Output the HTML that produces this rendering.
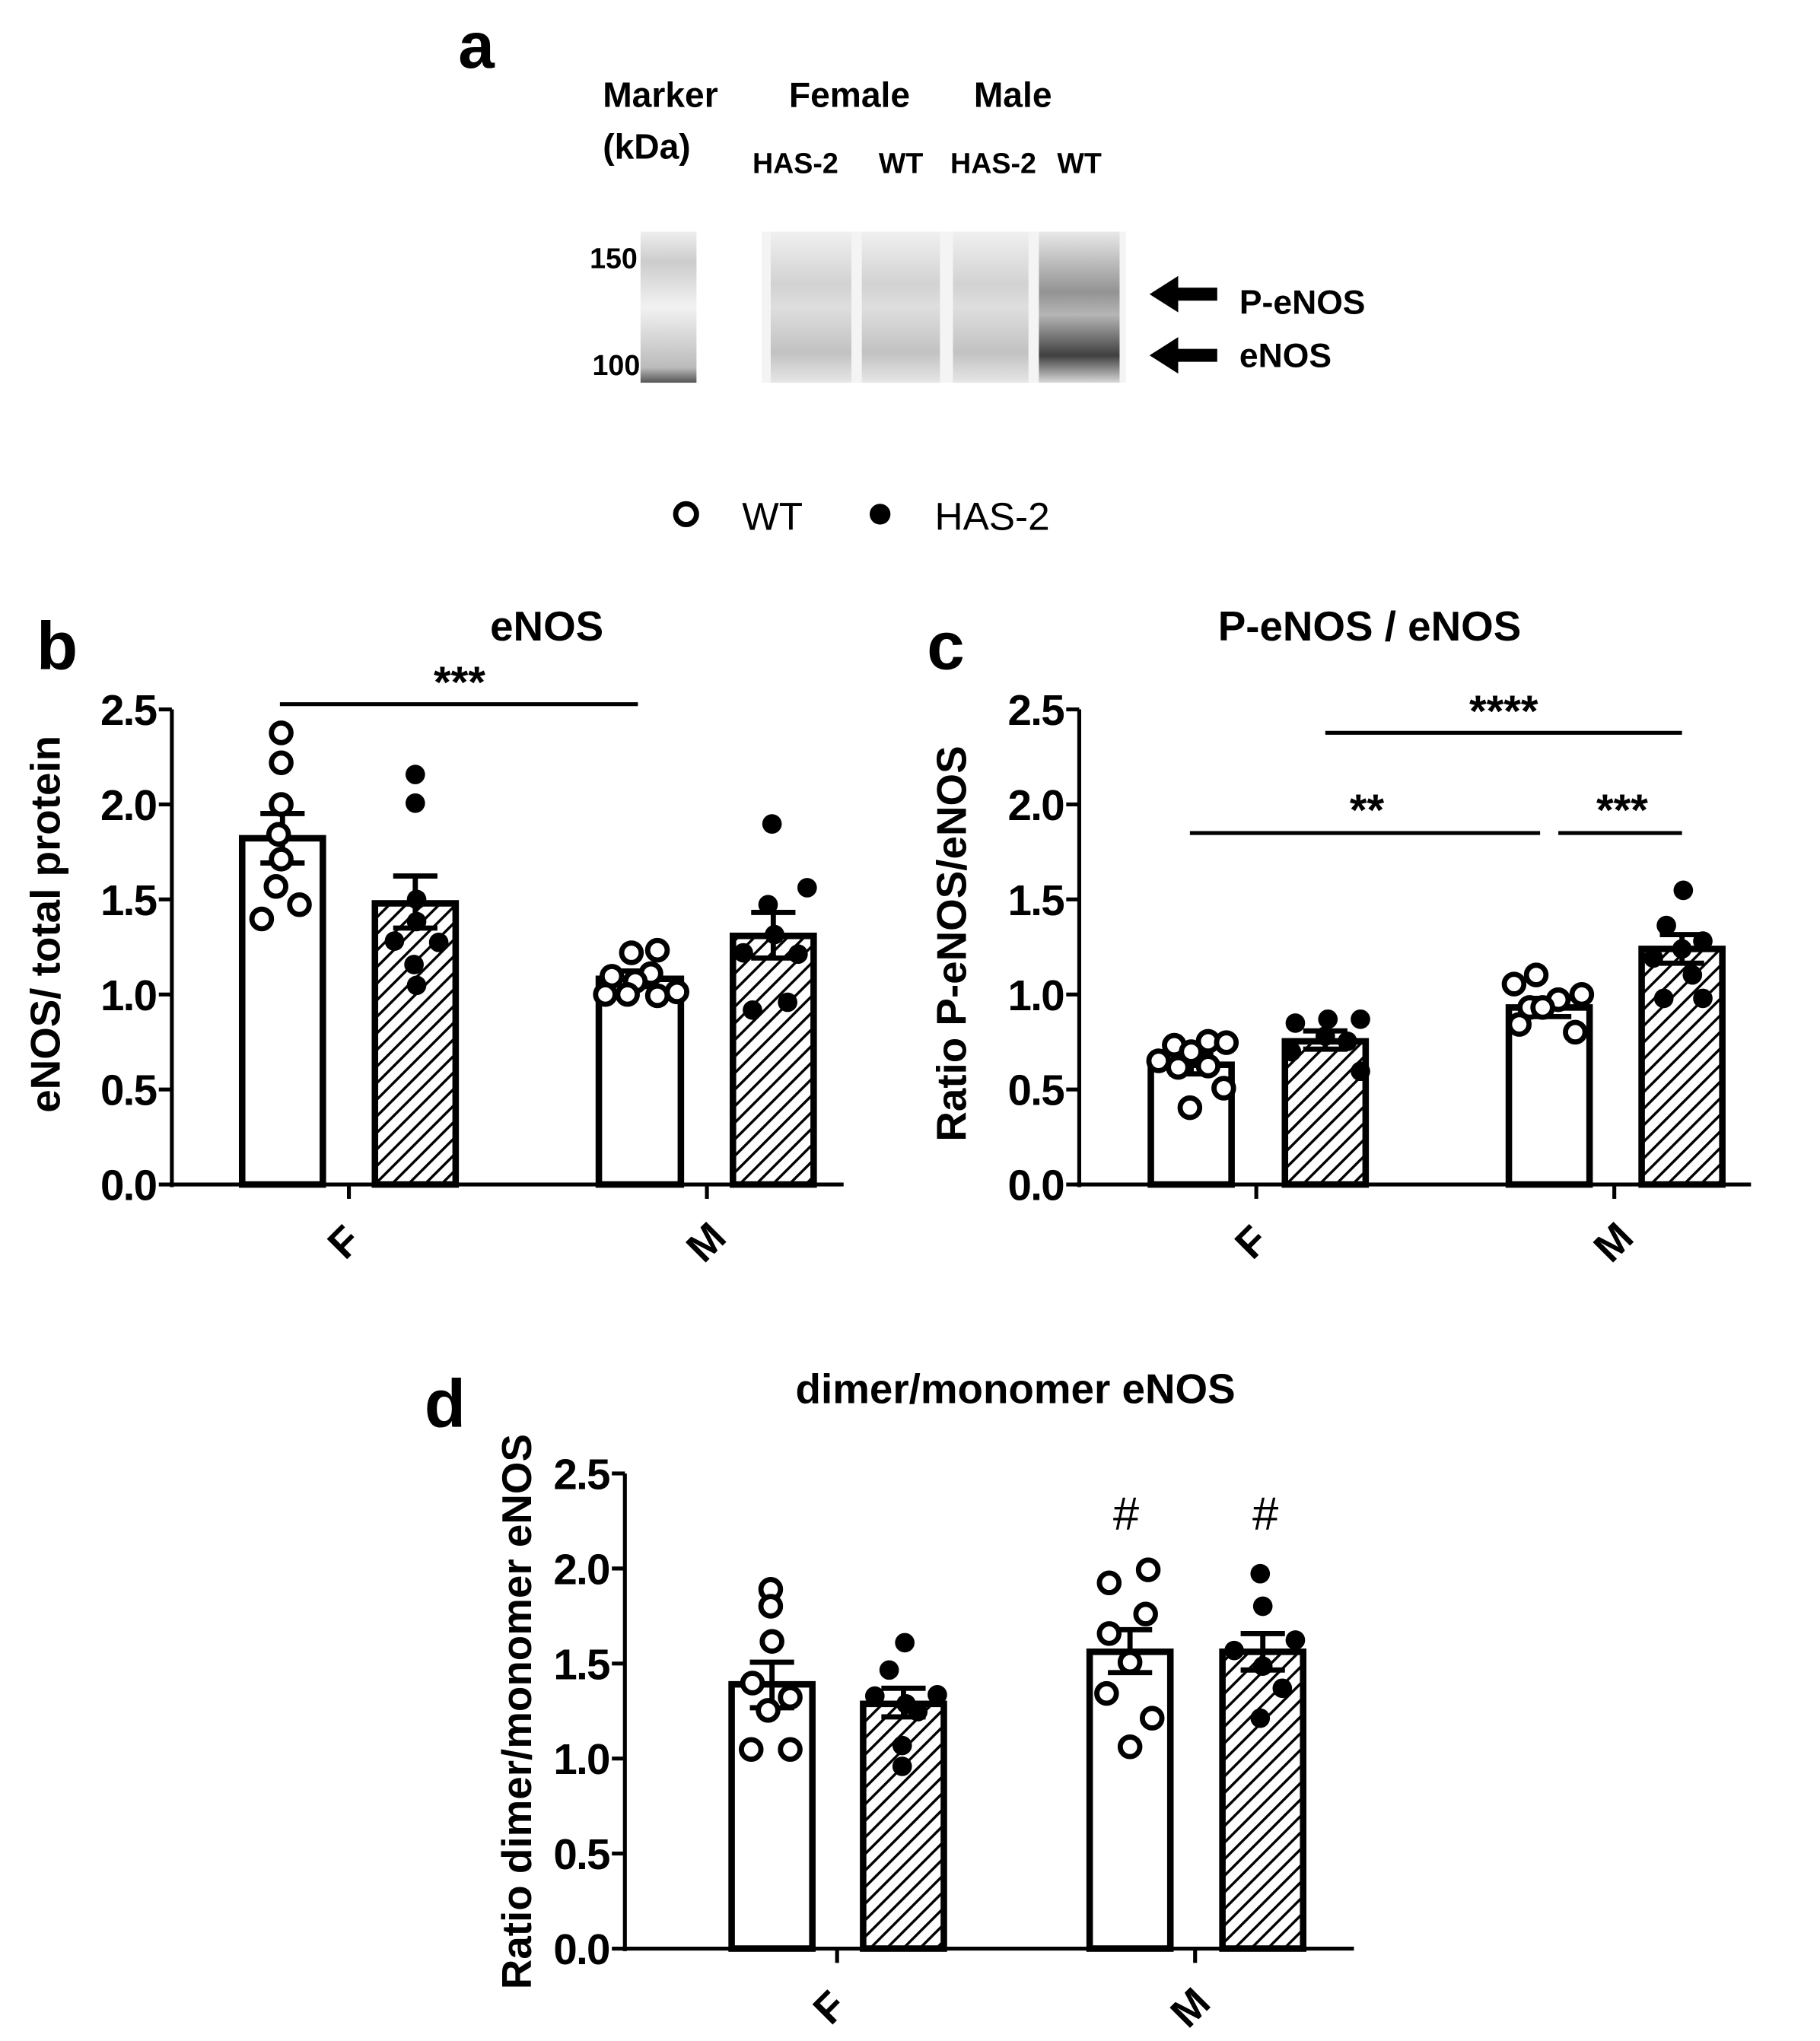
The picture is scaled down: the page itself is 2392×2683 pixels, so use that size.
<!DOCTYPE html>
<html><head><meta charset="utf-8"><style>html,body{margin:0;padding:0;background:#fff}svg{display:block}</style></head>
<body>
<svg width="2392" height="2683" viewBox="0 0 1398 1568" preserveAspectRatio="none" xmlns="http://www.w3.org/2000/svg" font-family="Liberation Sans, sans-serif">
<defs>
<pattern id="h" patternUnits="userSpaceOnUse" width="9" height="9" patternTransform="rotate(45)">
<rect width="9" height="9" fill="#fff"/><rect x="0" y="0" width="2" height="9" fill="#000"/>
</pattern>
<linearGradient id="lane" x1="0" x2="0" y1="0" y2="1">
<stop offset="0" stop-color="#f0f0f0"/><stop offset="0.35" stop-color="#d2d2d2"/><stop offset="0.5" stop-color="#dedede"/><stop offset="0.8" stop-color="#c2c2c2"/><stop offset="1" stop-color="#e6e6e6"/>
</linearGradient>
<linearGradient id="lane4" x1="0" x2="0" y1="0" y2="1">
<stop offset="0" stop-color="#e8e8e8"/><stop offset="0.4" stop-color="#939393"/><stop offset="0.55" stop-color="#b5b5b5"/><stop offset="0.82" stop-color="#404040"/><stop offset="1" stop-color="#d8d8d8"/>
</linearGradient>
<linearGradient id="mk" x1="0" x2="0" y1="0" y2="1">
<stop offset="0" stop-color="#eee"/><stop offset="0.2" stop-color="#ccc"/><stop offset="0.5" stop-color="#f2f2f2"/><stop offset="0.9" stop-color="#bbb"/><stop offset="1" stop-color="#555"/>
</linearGradient>
</defs>
<!-- Panel a -->
<g font-weight="bold">
<text x="352" y="52" font-size="50">a</text>
<text x="463" y="82" font-size="27">Marker</text>
<text x="463" y="122" font-size="27">(kDa)</text>
<text x="606" y="82" font-size="27">Female</text>
<text x="748" y="82" font-size="27">Male</text>
<text x="578" y="133" font-size="22">HAS-2</text>
<text x="675" y="133" font-size="22">WT</text>
<text x="730" y="133" font-size="22">HAS-2</text>
<text x="812" y="133" font-size="22">WT</text>
<text x="453" y="206" font-size="22">150</text>
<text x="455" y="288" font-size="22">100</text>
<text x="952" y="241" font-size="26">P-eNOS</text>
<text x="952" y="282" font-size="26">eNOS</text>
</g>
<rect x="492" y="178" width="43" height="116" fill="url(#mk)"/>
<rect x="585" y="178" width="280" height="116" fill="#f4f4f4"/>
<rect x="592" y="178" width="62" height="116" fill="url(#lane)"/>
<rect x="662" y="178" width="60" height="116" fill="url(#lane)"/>
<rect x="732" y="178" width="58" height="116" fill="url(#lane)"/>
<rect x="798" y="178" width="62" height="116" fill="url(#lane4)"/>
<polygon points="883,226 905,212 905,221 935,221 935,231 905,231 905,240" fill="#000"/>
<polygon points="883,273 905,259 905,268 935,268 935,278 905,278 905,287" fill="#000"/>
<circle cx="527" cy="395" r="8" fill="#fff" stroke="#000" stroke-width="4"/>
<text x="570" y="407" font-size="30">WT</text>
<circle cx="676" cy="395" r="8" fill="#000"/>
<text x="718" y="407" font-size="30">HAS-2</text>

<!-- Panel b -->
<g font-weight="bold">
<text x="28" y="514" font-size="52">b</text>
<text x="420" y="492" font-size="32" text-anchor="middle">eNOS</text>
<text x="353" y="536" font-size="34" text-anchor="middle">***</text>
<g font-size="33" text-anchor="end" letter-spacing="-1">
<text x="120" y="922">0.0</text><text x="120" y="849">0.5</text><text x="120" y="776">1.0</text><text x="120" y="703">1.5</text><text x="120" y="630">2.0</text><text x="120" y="557">2.5</text>
</g>
<text transform="translate(46,710) rotate(-90)" font-size="32" text-anchor="middle">eNOS/ total protein</text>
<text transform="translate(272,962) rotate(-45)" font-size="32" text-anchor="middle">F</text>
<text transform="translate(550,962) rotate(-45)" font-size="32" text-anchor="middle">M</text>
</g>
<line x1="215" y1="541" x2="490" y2="541" stroke="#000" stroke-width="3"/>
<g stroke="#000" stroke-width="3">
<line x1="132" y1="545" x2="132" y2="912"/>
<line x1="130" y1="910" x2="648" y2="910"/>
<line x1="122" y1="545" x2="132" y2="545"/><line x1="122" y1="618" x2="132" y2="618"/><line x1="122" y1="691" x2="132" y2="691"/><line x1="122" y1="764" x2="132" y2="764"/><line x1="122" y1="837" x2="132" y2="837"/><line x1="122" y1="910" x2="132" y2="910"/>
<line x1="268" y1="910" x2="268" y2="921"/><line x1="543" y1="910" x2="543" y2="921"/>
</g>
<g stroke="#000" stroke-width="5">
<rect x="186" y="644" width="62" height="266" fill="#fff"/>
<rect x="288" y="694" width="62" height="216" fill="url(#h)"/>
<rect x="460" y="752" width="63" height="158" fill="#fff"/>
<rect x="563" y="719" width="62" height="191" fill="url(#h)"/>
</g>
<g stroke="#000" stroke-width="4">
<line x1="217" y1="663" x2="217" y2="625"/><line x1="200" y1="663" x2="234" y2="663"/><line x1="200" y1="625" x2="234" y2="625"/>
<line x1="319" y1="713" x2="319" y2="673"/><line x1="302" y1="713" x2="336" y2="713"/><line x1="302" y1="673" x2="336" y2="673"/>
<line x1="491" y1="758" x2="491" y2="746"/><line x1="474" y1="758" x2="508" y2="758"/><line x1="474" y1="746" x2="508" y2="746"/>
<line x1="594" y1="736" x2="594" y2="701"/><line x1="577" y1="736" x2="611" y2="736"/><line x1="577" y1="701" x2="611" y2="701"/>
</g>
<g fill="#fff" stroke="#000" stroke-width="4">
<circle cx="216" cy="563" r="7.5"/><circle cx="216" cy="586" r="7.5"/><circle cx="216" cy="618" r="7.5"/><circle cx="214" cy="641" r="7.5"/><circle cx="216" cy="660" r="7.5"/><circle cx="212" cy="681" r="7.5"/><circle cx="201" cy="706" r="7.5"/><circle cx="230" cy="695" r="7.5"/>
<circle cx="485" cy="732" r="7.5"/><circle cx="505" cy="730" r="7.5"/><circle cx="470" cy="750" r="7.5"/><circle cx="500" cy="748" r="7.5"/><circle cx="488" cy="754" r="7.5"/><circle cx="465" cy="764" r="7.5"/><circle cx="482" cy="764" r="7.5"/><circle cx="520" cy="762" r="7.5"/><circle cx="505" cy="765" r="7.5"/>
</g>
<g fill="#000">
<circle cx="319" cy="595" r="7.5"/><circle cx="319" cy="617" r="7.5"/><circle cx="320" cy="691" r="7.5"/><circle cx="320" cy="708" r="7.5"/><circle cx="303" cy="723" r="7.5"/><circle cx="337" cy="724" r="7.5"/><circle cx="318" cy="741" r="7.5"/><circle cx="320" cy="757" r="7.5"/>
<circle cx="593" cy="633" r="7.5"/><circle cx="620" cy="682" r="7.5"/><circle cx="590" cy="695" r="7.5"/><circle cx="571" cy="732" r="7.5"/><circle cx="613" cy="733" r="7.5"/><circle cx="605" cy="770" r="7.5"/><circle cx="578" cy="776" r="7.5"/><circle cx="595" cy="718" r="7.5"/>
</g>

<!-- Panel c -->
<g font-weight="bold">
<text x="712" y="514" font-size="52">c</text>
<text x="1052" y="492" font-size="32" text-anchor="middle">P-eNOS / eNOS</text>
<text x="1155" y="558" font-size="34" text-anchor="middle">****</text>
<text x="1050" y="634" font-size="34" text-anchor="middle">**</text>
<text x="1246" y="634" font-size="34" text-anchor="middle">***</text>
<g font-size="33" text-anchor="end" letter-spacing="-1">
<text x="817" y="922">0.0</text><text x="817" y="849">0.5</text><text x="817" y="776">1.0</text><text x="817" y="703">1.5</text><text x="817" y="630">2.0</text><text x="817" y="557">2.5</text>
</g>
<text transform="translate(742,725) rotate(-90)" font-size="32" text-anchor="middle">Ratio P-eNOS/eNOS</text>
<text transform="translate(969,962) rotate(-45)" font-size="32" text-anchor="middle">F</text>
<text transform="translate(1247,962) rotate(-45)" font-size="32" text-anchor="middle">M</text>
</g>
<g stroke="#000" stroke-width="3">
<line x1="1018" y1="563" x2="1292" y2="563"/>
<line x1="914" y1="640" x2="1183" y2="640"/>
<line x1="1197" y1="640" x2="1292" y2="640"/>
<line x1="829" y1="545" x2="829" y2="912"/>
<line x1="827" y1="910" x2="1345" y2="910"/>
<line x1="819" y1="545" x2="829" y2="545"/><line x1="819" y1="618" x2="829" y2="618"/><line x1="819" y1="691" x2="829" y2="691"/><line x1="819" y1="764" x2="829" y2="764"/><line x1="819" y1="837" x2="829" y2="837"/><line x1="819" y1="910" x2="829" y2="910"/>
<line x1="965" y1="910" x2="965" y2="921"/><line x1="1240" y1="910" x2="1240" y2="921"/>
</g>
<g stroke="#000" stroke-width="5">
<rect x="884" y="818" width="62" height="92" fill="#fff"/>
<rect x="987" y="800" width="62" height="110" fill="url(#h)"/>
<rect x="1159" y="774" width="62" height="136" fill="#fff"/>
<rect x="1261" y="729" width="62" height="181" fill="url(#h)"/>
</g>
<g stroke="#000" stroke-width="4">
<line x1="915" y1="825" x2="915" y2="810"/><line x1="898" y1="825" x2="932" y2="825"/><line x1="898" y1="810" x2="932" y2="810"/>
<line x1="1018" y1="806" x2="1018" y2="792"/><line x1="1001" y1="806" x2="1035" y2="806"/><line x1="1001" y1="792" x2="1035" y2="792"/>
<line x1="1190" y1="781" x2="1190" y2="767"/><line x1="1173" y1="781" x2="1207" y2="781"/><line x1="1173" y1="767" x2="1207" y2="767"/>
<line x1="1292" y1="740" x2="1292" y2="718"/><line x1="1275" y1="740" x2="1309" y2="740"/><line x1="1275" y1="718" x2="1309" y2="718"/>
</g>
<g fill="#fff" stroke="#000" stroke-width="4">
<circle cx="928" cy="800" r="7.5"/><circle cx="942" cy="801" r="7.5"/><circle cx="902" cy="803" r="7.5"/><circle cx="915" cy="808" r="7.5"/><circle cx="890" cy="815" r="7.5"/><circle cx="928" cy="819" r="7.5"/><circle cx="905" cy="820" r="7.5"/><circle cx="940" cy="836" r="7.5"/><circle cx="914" cy="851" r="7.5"/>
<circle cx="1180" cy="749" r="7.5"/><circle cx="1163" cy="756" r="7.5"/><circle cx="1215" cy="764" r="7.5"/><circle cx="1197" cy="768" r="7.5"/><circle cx="1175" cy="774" r="7.5"/><circle cx="1185" cy="774" r="7.5"/><circle cx="1167" cy="787" r="7.5"/><circle cx="1210" cy="793" r="7.5"/>
</g>
<g fill="#000">
<circle cx="1020" cy="783" r="7.5"/><circle cx="1045" cy="783" r="7.5"/><circle cx="995" cy="786" r="7.5"/><circle cx="1018" cy="796" r="7.5"/><circle cx="1035" cy="800" r="7.5"/><circle cx="992" cy="808" r="7.5"/><circle cx="1045" cy="823" r="7.5"/>
<circle cx="1293" cy="684" r="7.5"/><circle cx="1280" cy="711" r="7.5"/><circle cx="1308" cy="723" r="7.5"/><circle cx="1292" cy="729" r="7.5"/><circle cx="1270" cy="736" r="7.5"/><circle cx="1300" cy="749" r="7.5"/><circle cx="1278" cy="767" r="7.5"/><circle cx="1308" cy="767" r="7.5"/>
</g>

<!-- Panel d -->
<g font-weight="bold">
<text x="326" y="1096" font-size="52">d</text>
<text x="780" y="1078" font-size="32" text-anchor="middle">dimer/monomer eNOS</text>
<text x="865" y="1175" font-size="36" font-weight="normal" text-anchor="middle">#</text>
<text x="972" y="1175" font-size="36" font-weight="normal" text-anchor="middle">#</text>
<g font-size="33" text-anchor="end" letter-spacing="-1">
<text x="468" y="1509">0.0</text><text x="468" y="1436">0.5</text><text x="468" y="1363">1.0</text><text x="468" y="1290">1.5</text><text x="468" y="1217">2.0</text><text x="468" y="1144">2.5</text>
</g>
<text transform="translate(408,1315) rotate(-90)" font-size="32" text-anchor="middle">Ratio dimer/monomer eNOS</text>
<text transform="translate(645,1550) rotate(-45)" font-size="32" text-anchor="middle">F</text>
<text transform="translate(922,1550) rotate(-45)" font-size="32" text-anchor="middle">M</text>
</g>
<g stroke="#000" stroke-width="3">
<line x1="480" y1="1132" x2="480" y2="1499"/>
<line x1="478" y1="1497" x2="1040" y2="1497"/>
<line x1="470" y1="1132" x2="480" y2="1132"/><line x1="470" y1="1205" x2="480" y2="1205"/><line x1="470" y1="1278" x2="480" y2="1278"/><line x1="470" y1="1351" x2="480" y2="1351"/><line x1="470" y1="1424" x2="480" y2="1424"/><line x1="470" y1="1497" x2="480" y2="1497"/>
<line x1="643" y1="1497" x2="643" y2="1508"/><line x1="918" y1="1497" x2="918" y2="1508"/>
</g>
<g stroke="#000" stroke-width="5">
<rect x="562" y="1294" width="62" height="203" fill="#fff"/>
<rect x="663" y="1309" width="62" height="188" fill="url(#h)"/>
<rect x="837" y="1269" width="62" height="228" fill="#fff"/>
<rect x="939" y="1269" width="62" height="228" fill="url(#h)"/>
</g>
<g stroke="#000" stroke-width="4">
<line x1="593" y1="1312" x2="593" y2="1277"/><line x1="576" y1="1312" x2="610" y2="1312"/><line x1="576" y1="1277" x2="610" y2="1277"/>
<line x1="694" y1="1319" x2="694" y2="1297"/><line x1="677" y1="1319" x2="711" y2="1319"/><line x1="677" y1="1297" x2="711" y2="1297"/>
<line x1="868" y1="1285" x2="868" y2="1252"/><line x1="851" y1="1285" x2="885" y2="1285"/><line x1="851" y1="1252" x2="885" y2="1252"/>
<line x1="970" y1="1283" x2="970" y2="1255"/><line x1="953" y1="1283" x2="987" y2="1283"/><line x1="953" y1="1255" x2="987" y2="1255"/>
</g>
<g fill="#fff" stroke="#000" stroke-width="4">
<circle cx="592" cy="1221" r="7.5"/><circle cx="592" cy="1234" r="7.5"/><circle cx="593" cy="1261" r="7.5"/><circle cx="578" cy="1293" r="7.5"/><circle cx="607" cy="1304" r="7.5"/><circle cx="590" cy="1314" r="7.5"/><circle cx="577" cy="1344" r="7.5"/><circle cx="607" cy="1344" r="7.5"/>
<circle cx="852" cy="1216" r="7.5"/><circle cx="882" cy="1206" r="7.5"/><circle cx="852" cy="1255" r="7.5"/><circle cx="880" cy="1240" r="7.5"/><circle cx="868" cy="1277" r="7.5"/><circle cx="850" cy="1301" r="7.5"/><circle cx="885" cy="1320" r="7.5"/><circle cx="868" cy="1342" r="7.5"/>
</g>
<g fill="#000">
<circle cx="695" cy="1262" r="7.5"/><circle cx="683" cy="1283" r="7.5"/><circle cx="720" cy="1302" r="7.5"/><circle cx="672" cy="1303" r="7.5"/><circle cx="696" cy="1309" r="7.5"/><circle cx="705" cy="1315" r="7.5"/><circle cx="693" cy="1341" r="7.5"/><circle cx="693" cy="1357" r="7.5"/>
<circle cx="968" cy="1209" r="7.5"/><circle cx="970" cy="1234" r="7.5"/><circle cx="995" cy="1260" r="7.5"/><circle cx="948" cy="1268" r="7.5"/><circle cx="970" cy="1280" r="7.5"/><circle cx="985" cy="1297" r="7.5"/><circle cx="968" cy="1320" r="7.5"/>
</g>
</svg>
</body></html>
